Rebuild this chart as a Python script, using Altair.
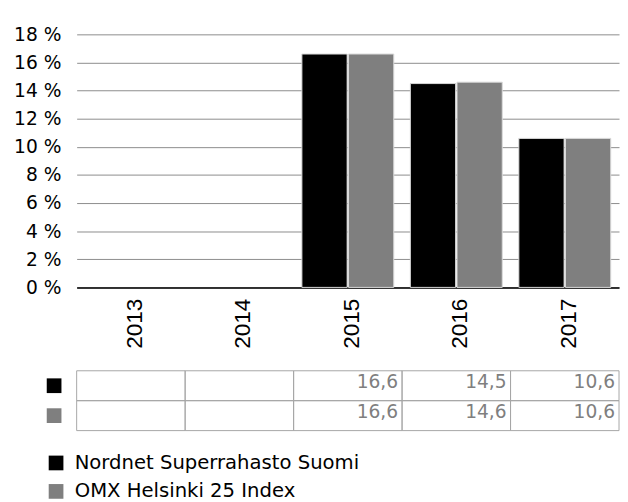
import altair as alt
import pandas as pd

years = ["2013", "2014", "2015", "2016", "2017"]
series = ["Nordnet Superrahasto Suomi", "OMX Helsinki 25 Index"]
nordnet = [None, None, 16.6, 14.5, 10.6]
omx = [None, None, 16.6, 14.6, 10.6]
colors = ["#000000", "#7f7f7f"]
y_ticks = [0, 2, 4, 6, 8, 10, 12, 14, 16, 18]

rows = []
for s, vals in zip(series, [nordnet, omx]):
    for yr, v in zip(years, vals):
        rows.append({
            "year": yr,
            "series": s,
            "value": v,
            "label": "" if v is None else f"{v:.1f}".replace(".", ","),
        })
df = pd.DataFrame(rows)
sdf = pd.DataFrame({"series": series})

FONT = "DejaVu Sans"
color_scale = alt.Scale(domain=series, range=colors)

bars = alt.Chart(df).transform_filter("isValid(datum.value)").mark_bar(
    stroke="#d9d9d9", strokeWidth=1
).encode(
    x=alt.X("year:N", sort=years,
            scale=alt.Scale(domain=years, paddingInner=0.153, paddingOuter=0.0765),
            axis=alt.Axis(title=None, labelAngle=270, labelFont="Liberation Sans",
                          labelFontSize=23, labelColor="#000000", labelPadding=11,
                          labelOffset=4, ticks=False, domainColor="#000000",
                          domainWidth=1.5, grid=False)),
    xOffset=alt.XOffset("series:N", sort=series,
                        scale=alt.Scale(domain=series, paddingInner=0.03)),
    y=alt.Y("value:Q", scale=alt.Scale(domain=[0, 18]),
            axis=alt.Axis(title=None, values=y_ticks, labelExpr="datum.value + ' %'",
                          labelFont=FONT, labelFontSize=19, labelColor="#000000",
                          domain=False, ticks=False, gridColor="#8c8c8c",
                          gridOpacity=1, labelPadding=16, minExtent=62, maxExtent=62)),
    color=alt.Color("series:N", scale=color_scale, legend=None),
).properties(width=553, height=258)

cells = alt.Chart(df).mark_rect(fill="#ffffff", fillOpacity=0, stroke="#a6a6a6",
                                strokeWidth=1).encode(
    x=alt.X("year:N", sort=years,
            scale=alt.Scale(domain=years, paddingInner=0, paddingOuter=0), axis=None),
    y=alt.Y("series:N", sort=series,
            scale=alt.Scale(domain=series, paddingInner=0, paddingOuter=0),
            axis=alt.Axis(title=None, labels=False, ticks=False, domain=False,
                          grid=False, minExtent=62, maxExtent=62)),
)

texts = alt.Chart(df).mark_text(align="right", baseline="middle", dx=-4, dy=-4,
                                font=FONT, fontSize=19, color="#7f7f7f").encode(
    x=alt.X("year:N", sort=years, bandPosition=1),
    y=alt.Y("series:N", sort=series),
    text="label:N",
)

squares = alt.Chart(sdf).mark_square(size=225, opacity=1).encode(
    x=alt.value(-23),
    y=alt.Y("series:N", sort=series),
    color=alt.Color("series:N", scale=color_scale,
                    legend=alt.Legend(orient="none", legendX=-31, legendY=84,
                                      title=None, symbolType="square", symbolSize=225,
                                      labelFont=FONT, labelFontSize=20,
                                      labelColor="#000000", rowPadding=9,
                                      labelOffset=9, labelLimit=0,
                                      symbolStrokeWidth=0, direction="vertical")),
)

table = alt.layer(cells, texts, squares).properties(width=553, height=61)

chart = alt.vconcat(bars, table, spacing=21).resolve_scale(
    color="independent"
).properties(
    padding={"left": 5, "top": 13, "right": 0, "bottom": 0}
).configure_view(stroke=None)

chart.save("out.html", embed_options={"renderer": "svg", "actions": False})
